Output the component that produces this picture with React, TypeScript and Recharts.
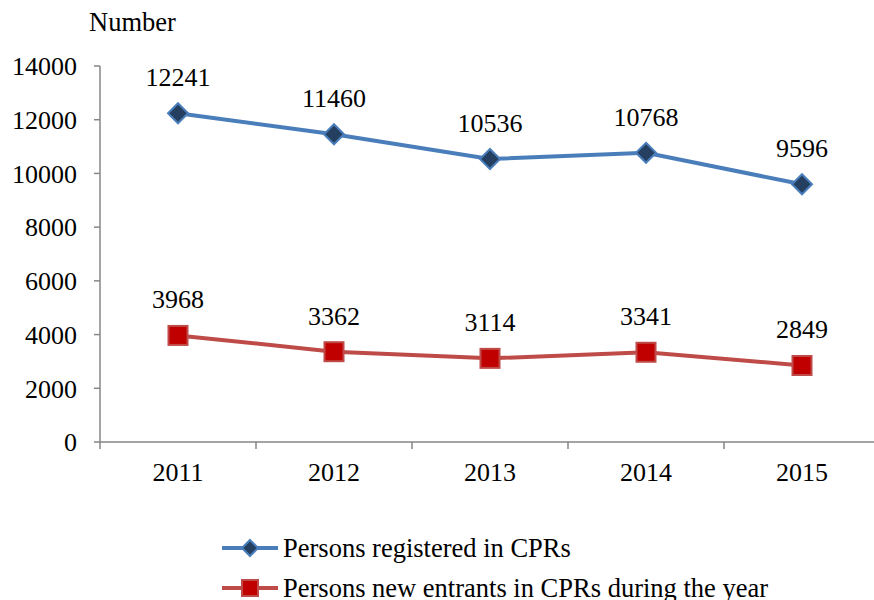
import { LineChart, Line, XAxis, YAxis, LabelList } from 'recharts';

const years = ['2011', '2012', '2013', '2014', '2015'];
const registered = [12241, 11460, 10536, 10768, 9596];
const newEntrants = [3968, 3362, 3114, 3341, 2849];
const yTicks = [0, 2000, 4000, 6000, 8000, 10000, 12000, 14000];

const data = years.map((year, i) => ({
  year,
  registered: registered[i],
  newEntrants: newEntrants[i],
}));

const FONT = '"Liberation Serif", "Times New Roman", serif';
const AXIS = '#868686';
const BLUE = '#4A7EBB';
const NAVY = '#243F60';
const RED = '#BE4B48';
const DARK_RED = '#C00000';

const PLOT_LEFT = 100;
const PLOT_RIGHT = 880;
const BAND = (PLOT_RIGHT - PLOT_LEFT) / years.length;

function Diamond({ cx, cy, size = 10 }: { cx: number; cy: number; size?: number }) {
  return (
    <path
      d={`M${cx},${cy - size} L${cx + size},${cy} L${cx},${cy + size} L${cx - size},${cy} Z`}
      fill={NAVY}
      stroke={BLUE}
      strokeWidth={2}
    />
  );
}

function Square({ cx, cy, size = 9.5 }: { cx: number; cy: number; size?: number }) {
  return (
    <rect
      x={cx - size}
      y={cy - size}
      width={size * 2}
      height={size * 2}
      fill={DARK_RED}
      stroke={RED}
      strokeWidth={2}
    />
  );
}

function XTick(props: any) {
  const { x, y, payload, index } = props;
  const half = BAND / 2;
  const axisY = y - 8;
  return (
    <g>
      <line x1={x - half} y1={axisY} x2={x - half} y2={axisY + 7} stroke={AXIS} strokeWidth={1.5} />
      {index === years.length - 1 && (
        <line x1={x + half} y1={axisY} x2={x + half} y2={axisY + 7} stroke={AXIS} strokeWidth={1.5} />
      )}
      <text x={x} y={axisY + 39} textAnchor="middle" fontFamily={FONT} fontSize={26} fill="#000">
        {payload.value}
      </text>
    </g>
  );
}

function ChartLegend() {
  const rows = [
    { label: 'Persons registered in CPRs', color: BLUE, marker: 'diamond' },
    { label: 'Persons new entrants in CPRs during the year', color: RED, marker: 'square' },
  ];
  return (
    <svg width={600} height={80} style={{ position: 'absolute', left: 220, top: 528, overflow: 'visible' }}>
      {rows.map((r, i) => {
        const cy = 20 + i * 40;
        return (
          <g key={r.label}>
            <line x1={2} y1={cy} x2={58} y2={cy} stroke={r.color} strokeWidth={4} />
            {r.marker === 'diamond' ? <Diamond cx={30} cy={cy} size={8} /> : <Square cx={30} cy={cy} size={8} />}
            <text x={63} y={cy + 9} fontFamily={FONT} fontSize={26.5} fill="#000">
              {r.label}
            </text>
          </g>
        );
      })}
    </svg>
  );
}

export default function App() {
  return (
    <div style={{ position: 'absolute', left: 0, top: 0, width: 874, height: 600, overflow: 'hidden', background: '#fff' }}>
      <div style={{ position: 'absolute', left: 89, top: 7, fontFamily: FONT, fontSize: 26.5, color: '#000' }}>
        Number
      </div>
      <LineChart
        width={884}
        height={600}
        data={data}
        margin={{ top: 66, right: 884 - PLOT_RIGHT, bottom: 0, left: 0 }}
      >
        <XAxis
          dataKey="year"
          scale="band"
          height={158}
          stroke={AXIS}
          strokeWidth={1.5}
          tickLine={false}
          tick={<XTick />}
          interval={0}
        />
        <YAxis
          width={PLOT_LEFT}
          domain={[0, 14000]}
          ticks={yTicks}
          interval={0}
          stroke={AXIS}
          strokeWidth={1.5}
          tickSize={6}
          tick={{ fontFamily: FONT, fontSize: 26, fill: '#000' }}
          tickMargin={17}
        />
        <Line
          dataKey="registered"
          stroke={BLUE}
          strokeWidth={4}
          isAnimationActive={false}
          dot={(p: any) => <Diamond key={`d${p.index}`} cx={p.cx} cy={p.cy} />}
        >
          <LabelList dataKey="registered" position="top" offset={27} fontFamily={FONT} fontSize={26} fill="#000" />
        </Line>
        <Line
          dataKey="newEntrants"
          stroke={RED}
          strokeWidth={4}
          isAnimationActive={false}
          dot={(p: any) => <Square key={`s${p.index}`} cx={p.cx} cy={p.cy} />}
        >
          <LabelList dataKey="newEntrants" position="top" offset={27} fontFamily={FONT} fontSize={26} fill="#000" />
        </Line>
      </LineChart>
      <ChartLegend />
    </div>
  );
}
